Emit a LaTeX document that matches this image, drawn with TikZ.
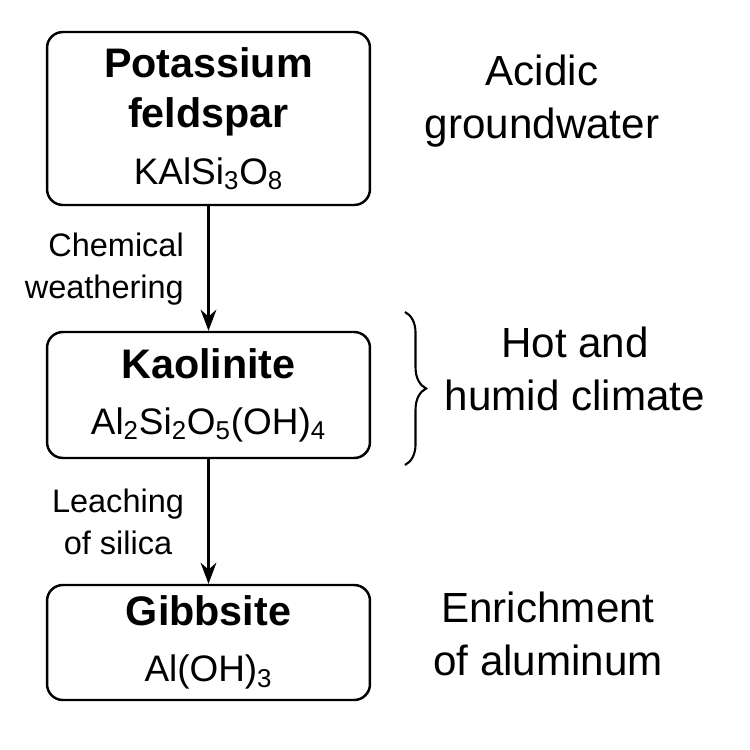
\documentclass[tikz,border=0pt]{standalone}
\usepackage{fontspec}
\setmainfont{Liberation Sans}
\usetikzlibrary{arrows.meta,decorations.pathreplacing}
\newcommand{\tb}[1]{{\bfseries #1}}
\newcommand{\tf}[1]{{\fontsize{21}{26}\selectfont #1}}
\begin{document}
\begin{tikzpicture}[x=0.02cm,y=-0.02cm,
  box/.style={draw,line width=1.4pt,rounded corners=9pt,minimum width=6.46cm,align=center,font=\fontsize{23.5}{29}\selectfont},
  side/.style={font=\fontsize{24}{30}\selectfont,align=center},
  lab/.style={font=\fontsize{18.5}{24}\selectfont},
  arr/.style={-{Stealth[length=12pt,width=9pt]},line width=1.2pt}]
\useasboundingbox (0,0) rectangle (750,750);
\node[box,minimum height=3.46cm] (b1) at (208.5,118.5) {\tb{Potassium}\\\tb{feldspar}\\[3pt]\tf{KAlSi\textsubscript{3}O\textsubscript{8}}};
\node[box,minimum height=2.52cm] (b2) at (208.5,395) {\tb{Kaolinite}\\[3pt]\tf{Al\textsubscript{2}Si\textsubscript{2}O\textsubscript{5}(OH)\textsubscript{4}}};
\node[box,minimum height=2.3cm] (b3) at (208.5,642.5) {\tb{Gibbsite}\\[3pt]\tf{Al(OH)\textsubscript{3}}};
\draw[arr] (b1) -- (b2);
\draw[arr] (b2) -- (b3);
\node[lab,align=right,anchor=east] (l1) at (190,269) {Chemical\\weathering};
\node[lab,align=center] (l2) at (118,522) {Leaching\\of silica};
\node[side] (s1) at (542,101) {Acidic\\groundwater};
\node[side] (s2) at (575,369) {Hot and\\humid climate};
\node[side] (s3) at (548,634) {Enrichment\\of aluminum};
\coordinate (bt) at (405,312);
\coordinate (bb) at (405,465);
\draw[line width=1.2pt,decorate,decoration={brace,amplitude=12pt}] (bt) -- (bb);
\end{tikzpicture}
\end{document}
